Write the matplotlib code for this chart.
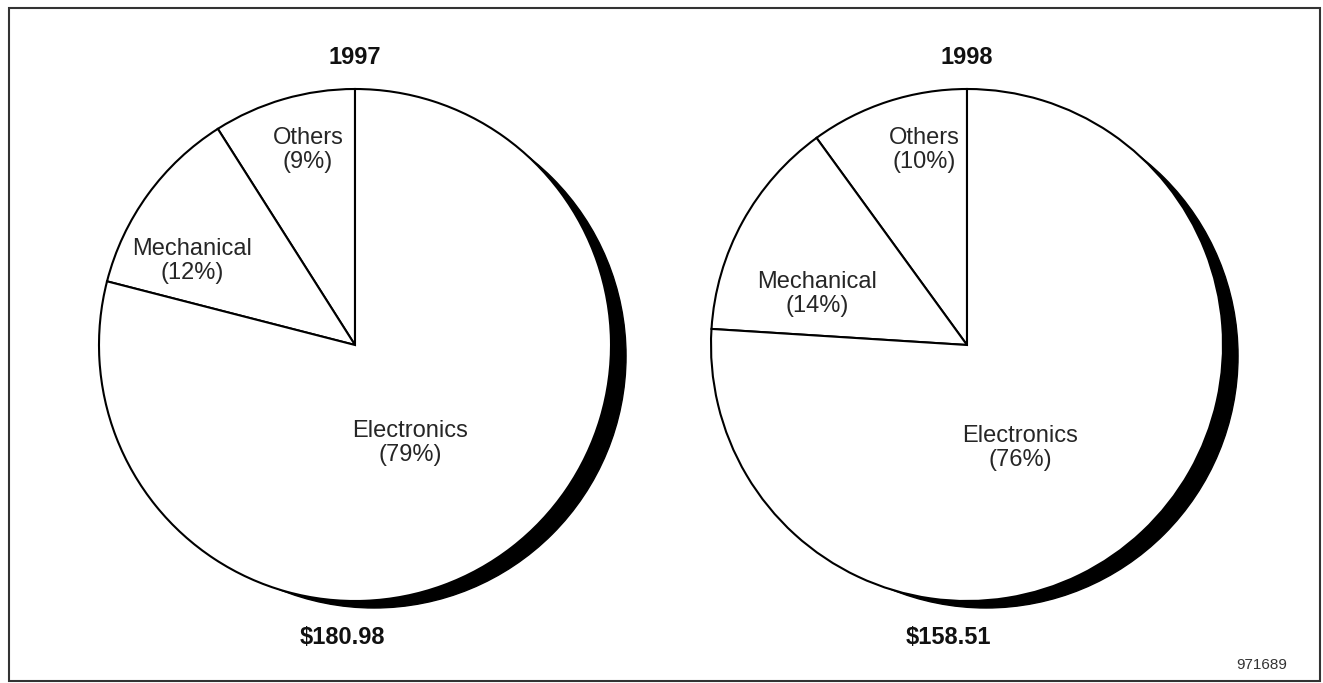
import numpy as np
import matplotlib
matplotlib.use("Agg")
import matplotlib.pyplot as plt
from matplotlib.patches import Circle, Rectangle

plt.rcParams['font.family'] = ['Liberation Sans', 'DejaVu Sans']

# data
years = ['1997', '1998']
categories = ['Others', 'Mechanical', 'Electronics']
shares_1997 = [9, 12, 79]
shares_1998 = [10, 14, 76]
totals = ['$180.98', '$158.51']
fig_id = '971689'

W, H = 1323, 683
fig = plt.figure(figsize=(W / 100, H / 100), dpi=100)
ax = fig.add_axes([0, 0, 1, 1])

# layout in pixel units (y measured from top)
centers = [(355, 345), (967, 345)]
radius = 256
label_pos = [
    [(308, 150), (192, 261), (410, 443)],
    [(924, 150), (817, 294), (1020, 448)],
]
total_pos = [(342, 638), (948, 638)]

# shadow: slightly smaller disc pushed down-right
sh_ang = np.radians(-30)
sh_d = 22
sh_dr = -4

for i, shares in enumerate([shares_1997, shares_1998]):
    cx, cy = centers[i]
    cy = H - cy
    ax.add_patch(Circle((cx + sh_d * np.cos(sh_ang), cy + sh_d * np.sin(sh_ang)),
                        radius + sh_dr, fc='black', ec='black', lw=1.0, zorder=1))
    wedges, _ = ax.pie(shares, center=(cx, cy), radius=radius, startangle=90,
                       counterclock=True,
                       wedgeprops=dict(fc='white', ec='black', lw=1.5))
    for w in wedges:
        w.set_zorder(2)
    for j, cat in enumerate(categories):
        tx, ty = label_pos[i][j]
        ax.text(tx, H - ty, f"{cat}\n({shares[j]}%)", ha='center', va='center',
                fontsize=17, linespacing=1.1, color='#262626', zorder=3)
    ax.text(centers[i][0], H - 58, years[i], ha='center', va='center',
            fontsize=17, fontweight='bold', color='#111111')
    ax.text(total_pos[i][0], H - total_pos[i][1], totals[i], ha='center', va='center',
            fontsize=17, fontweight='bold', color='#111111')

ax.text(1287, H - 665, fig_id, ha='right', va='center', fontsize=11, color='#333333')

# frame around the figure
ax.add_patch(Rectangle((9, H - 681), 1311, 673, fill=False, ec='#333333', lw=1.5, zorder=0))

ax.set_xlim(0, W)
ax.set_ylim(0, H)
ax.set_aspect('equal')
ax.axis('off')

fig.savefig('out.png', dpi=100)
